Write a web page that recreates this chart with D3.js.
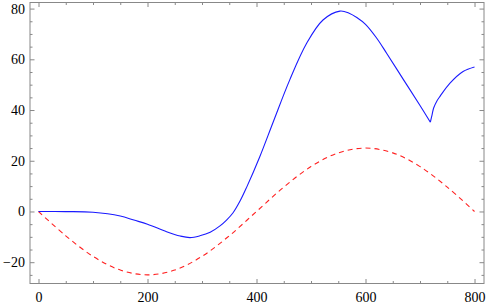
<!DOCTYPE html>
<html>
<head>
<meta charset="utf-8">
<script src="https://cdn.jsdelivr.net/npm/d3@7"></script>
<style>
  body { margin: 0; background: #fff; }
</style>
</head>
<body>
<div id="container"></div>
<script>
// Values
// blue: rising part, up to the cusp near x = 719
const blueX1 = [0, 50, 100, 150, 175, 200, 235, 260, 278, 296, 315, 333, 345, 357, 370, 382, 406, 431, 461, 492, 522, 553, 570, 584, 600, 620, 639, 669, 700, 719];
const blueY1 = [0, -0.05, -0.3, -1.8, -3.4, -5, -8, -9.7, -10.3, -9.6, -8.2, -5.7, -3.4, -0.5, 4.2, 9.6, 21.6, 35.5, 51.9, 66.3, 75.5, 79, 78.2, 76.5, 73.8, 68.5, 62.3, 52.2, 41.8, 35.2];
// blue: after the cusp
const blueX2 = [719, 722, 725, 731, 737, 755, 779, 800];
const blueY2 = [35.2, 38, 40.8, 43.6, 45.5, 50.6, 55.2, 57];

const redX = [0, 50, 100, 150, 200, 250, 300, 350, 400, 450, 500, 550, 600, 650, 700, 750, 800];
const redY = [0, -9.6, -17.7, -23.1, -25, -23.1, -17.7, -9.6, 0, 9.6, 17.7, 23.1, 25, 23.1, 17.7, 9.6, 0];

const xTicks = [0, 200, 400, 600, 800];
const yTicks = [-20, 0, 20, 40, 60, 80];

const width = 486, height = 305;
const frame = { left: 30, right: 484, top: 2.5, bottom: 283.5 };
const serif = "Times New Roman, Liberation Serif, DejaVu Serif, serif";

const svg = d3.select("#container")
  .append("svg")
  .attr("width", width)
  .attr("height", height);

const x = d3.scaleLinear().domain([-15.6, 817.4]).range([frame.left, frame.right]);
const y = d3.scaleLinear().domain([-28.4, 82.4]).range([frame.bottom, frame.top]);

const xMinor = d3.range(0, 801, 50).filter(v => !xTicks.includes(v));
const yMinor = d3.range(-25, 81, 5).filter(v => !yTicks.includes(v));
const fmt = v => (v < 0 ? "\u2212" + Math.abs(v) : String(v));

function addAxis(axis, tx, ty) {
  const g = svg.append("g")
    .attr("transform", "translate(" + tx + "," + ty + ")")
    .call(axis)
    .attr("font-family", serif)
    .attr("font-size", 14);
  g.select(".domain").remove();
  g.selectAll(".tick line").attr("stroke", "#888");
  g.selectAll(".tick text").attr("fill", "#000");
  return g;
}

// Bottom axis with labels, top axis without
addAxis(d3.axisBottom(x).tickValues(xTicks).tickSize(-4.5).tickPadding(9).tickFormat(fmt), 0, frame.bottom);
addAxis(d3.axisBottom(x).tickValues(xMinor).tickSize(-2.5).tickFormat(""), 0, frame.bottom);
addAxis(d3.axisTop(x).tickValues(xTicks).tickSize(-4.5).tickFormat(""), 0, frame.top);
addAxis(d3.axisTop(x).tickValues(xMinor).tickSize(-2.5).tickFormat(""), 0, frame.top);

// Left axis with labels, right axis without
addAxis(d3.axisLeft(y).tickValues(yTicks).tickSize(-4.5).tickPadding(5).tickFormat(fmt), frame.left, 0);
addAxis(d3.axisLeft(y).tickValues(yMinor).tickSize(-2.5).tickFormat(""), frame.left, 0);
addAxis(d3.axisRight(y).tickValues(yTicks).tickSize(-4.5).tickFormat(""), frame.right, 0);
addAxis(d3.axisRight(y).tickValues(yMinor).tickSize(-2.5).tickFormat(""), frame.right, 0);

// Frame
svg.append("rect")
  .attr("x", frame.left)
  .attr("y", frame.top)
  .attr("width", frame.right - frame.left)
  .attr("height", frame.bottom - frame.top)
  .attr("fill", "none")
  .attr("stroke", "#888")
  .attr("stroke-width", 1);

const line = d3.line()
  .x(d => x(d[0]))
  .y(d => y(d[1]))
  .curve(d3.curveCatmullRom.alpha(0.5));

svg.append("path")
  .datum(redX.map((v, i) => [v, redY[i]]))
  .attr("d", line)
  .attr("fill", "none")
  .attr("stroke", "#ff2020")
  .attr("stroke-width", 1.1)
  .attr("stroke-dasharray", "5,4");

const blue1 = blueX1.map((v, i) => [v, blueY1[i]]);
const blue2 = blueX2.map((v, i) => [v, blueY2[i]]);
svg.append("path")
  .attr("d", line(blue1) + line(blue2))
  .attr("fill", "none")
  .attr("stroke", "#1a1aff")
  .attr("stroke-width", 1.1);
</script>
</body>
</html>
